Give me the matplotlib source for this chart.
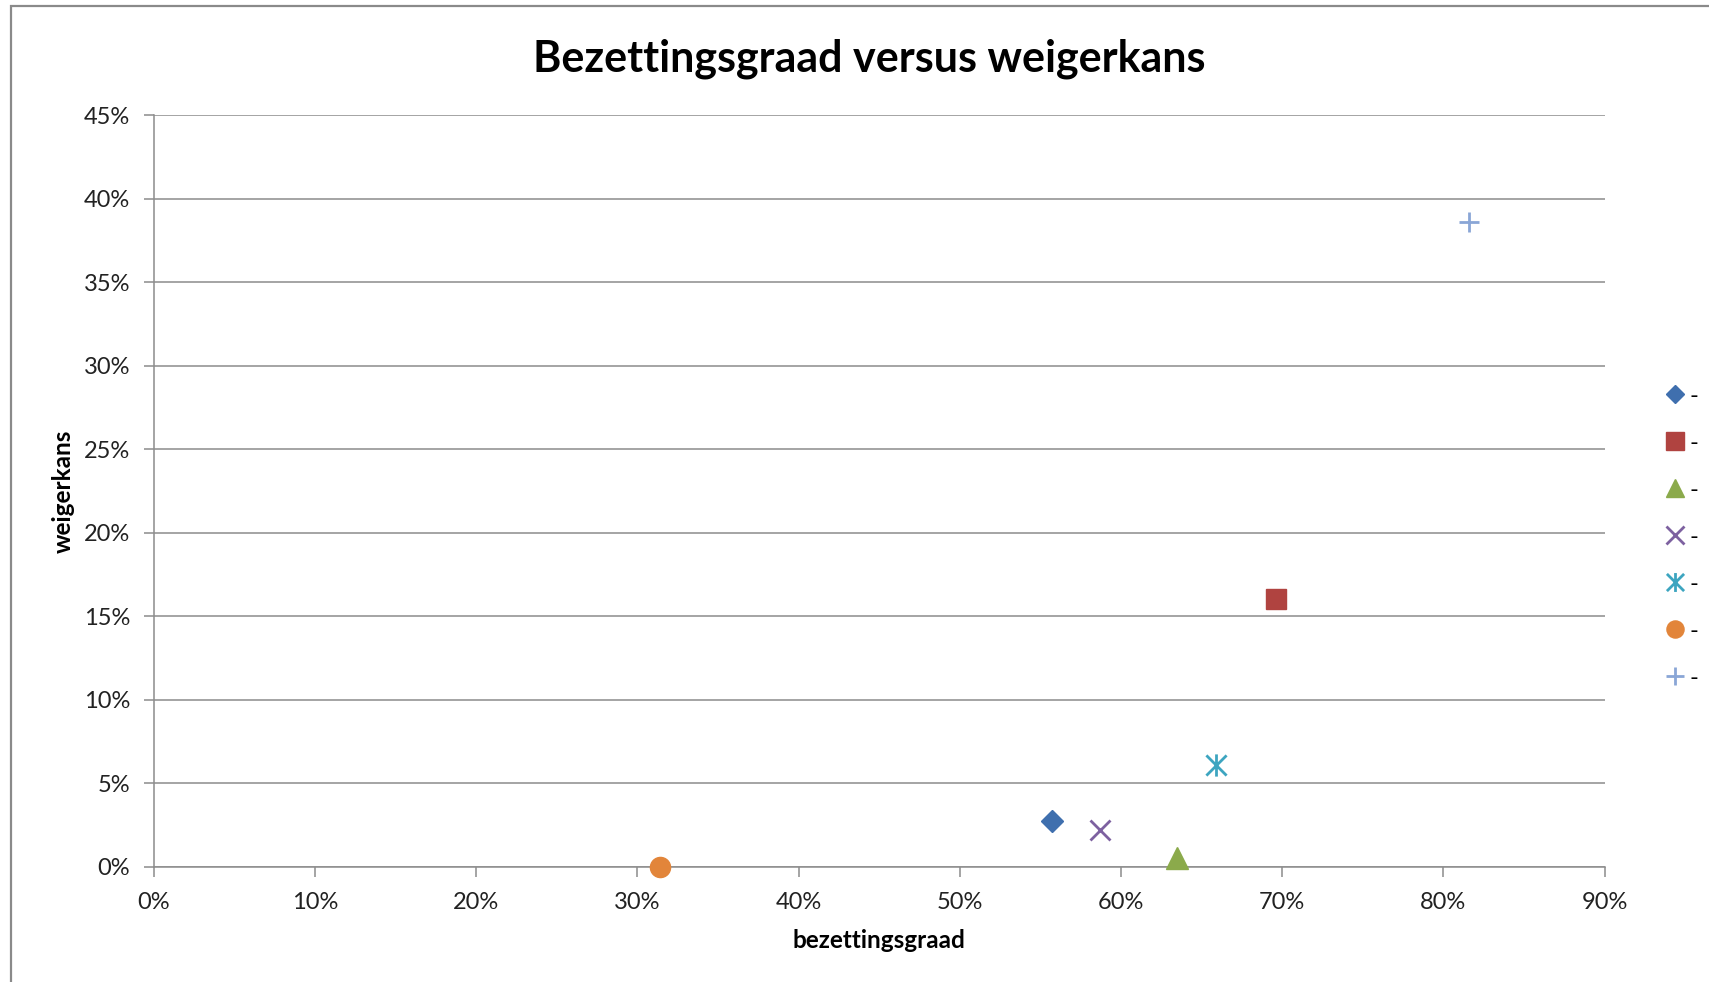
import matplotlib.pyplot as plt
import matplotlib.patches as patches
from matplotlib.path import Path
from matplotlib.ticker import PercentFormatter

# series values (fractions)
bezetting = [0.557, 0.696, 0.635, 0.587, 0.659, 0.314, 0.816]
weigerkans = [0.027, 0.160, 0.005, 0.022, 0.061, 0.000, 0.386]
labels = ["-", "-", "-", "-", "-", "-", "-"]

x_ticks = [0.0, 0.1, 0.2, 0.3, 0.4, 0.5, 0.6, 0.7, 0.8, 0.9]
y_ticks = [0.0, 0.05, 0.10, 0.15, 0.20, 0.25, 0.30, 0.35, 0.40, 0.45]

# Excel-style asterisk: x plus a vertical stroke
asterisk = Path([(-1, -1), (1, 1), (-1, 1), (1, -1), (0, -1.1), (0, 1.1)],
                [Path.MOVETO, Path.LINETO, Path.MOVETO, Path.LINETO, Path.MOVETO, Path.LINETO])

styles = [
    dict(marker="D", ms=11, color="#3F6FAE", mec="#3F6FAE"),
    dict(marker="s", ms=15, color="#B04340", mec="#B04340"),
    dict(marker="^", ms=15.5, color="#8BAA4B", mec="#8BAA4B"),
    dict(marker="x", ms=15, color="#7D61A0", mew=2),
    dict(marker=asterisk, ms=16, color="#3DA5C0", mew=2),
    dict(marker="o", ms=14.5, color="#E2853A", mec="#E2853A"),
    dict(marker="+", ms=15, color="#8AA6D6", mew=2),
]

plt.rcParams['font.family'] = ['Lato', 'DejaVu Sans']

fig = plt.figure(figsize=(17.09, 9.82), dpi=100)
ax = fig.add_axes([0.0899, 0.1176, 0.849, 0.7648])

# chart frame (cut off at right/bottom in the original)
fig.patches.append(patches.Rectangle((11 / 1709, -0.05), 1.2, 1 - 6 / 982 + 0.05,
                                     transform=fig.transFigure, fill=False,
                                     ec="#8a8a8a", lw=1.6))

for xv, yv, lab, st in zip(bezetting, weigerkans, labels, styles):
    ax.plot([xv], [yv], linestyle="none", label=lab, zorder=3, clip_on=False, **st)

ax.set_xlim(0, 0.9)
ax.set_ylim(0, 0.45)
ax.set_xticks(x_ticks)
ax.set_yticks(y_ticks)
ax.xaxis.set_major_formatter(PercentFormatter(1.0, decimals=0))
ax.yaxis.set_major_formatter(PercentFormatter(1.0, decimals=0))
ax.yaxis.grid(True, color="#8c8c8c", lw=1.1)
ax.set_axisbelow(True)
for s in ["top", "right"]:
    ax.spines[s].set_visible(False)
for s in ["left", "bottom"]:
    ax.spines[s].set_color("#8c8c8c")
    ax.spines[s].set_linewidth(1.1)
ax.tick_params(axis="both", length=7, width=1.1, color="#8c8c8c",
               labelsize=17, labelcolor="#222222")
ax.tick_params(axis="y", pad=10)
ax.tick_params(axis="x", pad=11)

ax.set_xlabel("bezettingsgraad", fontsize=17.5, fontweight="bold", labelpad=12)
ax.set_ylabel("weigerkans", fontsize=17.5, fontweight="bold", labelpad=6)
fig.text(0.5085, 0.940, "Bezettingsgraad versus weigerkans", ha="center", va="center",
         fontsize=31, fontweight="bold")

ax.legend(loc="center left", bbox_to_anchor=(0.961, 0.453), bbox_transform=fig.transFigure,
          frameon=False, markerscale=0.85, handlelength=1.0, handletextpad=0.1,
          labelspacing=1.1, fontsize=17)

fig.savefig("out.png", dpi=100)
